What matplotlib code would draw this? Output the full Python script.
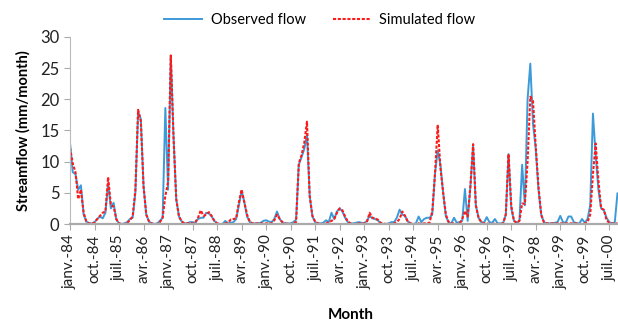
import matplotlib
matplotlib.use("Agg")
import matplotlib.pyplot as plt
import numpy as np

# Monthly streamflow (mm/month), Jan 1984 onwards
observed = [
    13.0, 8.3, 8.0, 5.5, 6.2, 1.5, 0.4, 0.1, 0.1, 0.3, 0.8, 1.2,      # 1984
    0.9, 1.8, 6.5, 2.5, 3.4, 0.7, 0.1, 0.0, 0.1, 0.3, 0.8, 1.0,       # 1985
    5.0, 18.0, 16.8, 6.0, 1.5, 0.4, 0.1, 0.0, 0.1, 0.5, 1.0, 18.6,    # 1986
    5.5, 27.0, 14.0, 4.0, 1.2, 0.4, 0.1, 0.1, 0.3, 0.3, 0.2, 0.8,     # 1987
    1.0, 1.0, 1.8, 1.7, 1.2, 0.5, 0.1, 0.0, 0.0, 0.5, 0.1, 0.2,       # 1988
    0.3, 0.8, 3.0, 5.3, 3.5, 1.2, 0.3, 0.1, 0.1, 0.1, 0.2, 0.5,       # 1989
    0.6, 0.4, 0.3, 0.8, 2.0, 0.8, 0.2, 0.1, 0.1, 0.1, 0.3, 0.7,       # 1990
    9.5, 10.7, 12.0, 14.3, 4.5, 1.2, 0.3, 0.1, 0.1, 0.2, 0.6, 0.3,    # 1991
    1.8, 0.8, 2.0, 2.5, 2.0, 1.0, 0.3, 0.1, 0.1, 0.2, 0.3, 0.2,       # 1992
    0.1, 0.5, 1.3, 0.9, 0.8, 0.6, 0.1, 0.0, 0.0, 0.1, 0.3, 0.3,       # 1993
    1.0, 2.3, 1.5, 1.3, 0.4, 0.1, 0.0, 0.1, 1.2, 0.3, 0.8, 1.0,       # 1994
    1.0, 1.5, 8.0, 11.8, 9.5, 5.0, 1.2, 0.3, 0.1, 1.0, 0.2, 0.3,      # 1995
    0.5, 5.6, 0.5, 6.0, 12.5, 3.0, 1.0, 0.3, 0.2, 1.1, 0.3, 0.2,      # 1996
    0.8, 0.1, 0.1, 0.1, 1.5, 11.2, 2.5, 0.5, 0.2, 0.5, 9.5, 3.0,      # 1997
    20.0, 25.7, 16.0, 12.0, 5.5, 1.5, 0.3, 0.1, 0.1, 0.1, 0.2, 0.3,   # 1998
    1.3, 0.3, 0.2, 1.2, 1.2, 0.3, 0.1, 0.1, 0.8, 0.2, 0.8, 3.0,       # 1999
    17.7, 11.0, 5.5, 2.5, 2.2, 1.0, 0.3, 0.1, 0.2, 4.9,               # 2000
]
simulated = [
    12.2, 9.7, 8.3, 4.0, 5.5, 1.8, 0.4, 0.1, 0.1, 0.2, 0.8, 1.3,
    1.8, 2.0, 7.5, 3.0, 2.8, 0.8, 0.1, 0.0, 0.0, 0.2, 0.6, 1.2,
    5.5, 18.3, 16.5, 6.0, 1.5, 0.4, 0.1, 0.0, 0.0, 0.3, 1.0, 4.5,
    6.7, 27.0, 14.0, 4.0, 1.2, 0.4, 0.1, 0.1, 0.2, 0.1, 0.3, 1.0,
    2.2, 1.3, 1.5, 1.9, 1.3, 0.5, 0.1, 0.0, 0.0, 0.1, 0.2, 0.7,
    0.8, 0.9, 3.5, 5.5, 3.5, 1.5, 0.4, 0.1, 0.1, 0.1, 0.1, 0.1,
    0.1, 0.1, 0.1, 0.6, 1.5, 0.8, 0.3, 0.1, 0.0, 0.0, 0.1, 0.3,
    9.7, 11.0, 13.0, 16.4, 4.5, 1.3, 0.4, 0.1, 0.0, 0.0, 0.1, 0.3,
    0.5, 0.8, 1.8, 2.5, 2.2, 1.2, 0.4, 0.1, 0.0, 0.0, 0.1, 0.1,
    0.1, 0.3, 1.8, 1.0, 0.9, 0.7, 0.2, 0.1, 0.0, 0.0, 0.0, 0.1,
    0.3, 0.8, 2.0, 1.3, 0.4, 0.1, 0.0, 0.0, 0.1, 0.0, 0.1, 0.1,
    0.2, 2.0, 8.0, 15.9, 9.0, 5.0, 1.5, 0.3, 0.1, 0.1, 0.0, 0.0,
    0.8, 2.1, 1.2, 6.0, 12.8, 3.0, 1.0, 0.3, 0.1, 0.1, 0.0, 0.0,
    0.1, 0.0, 0.0, 0.1, 1.5, 11.2, 3.0, 0.5, 0.2, 0.5, 3.3, 3.2,
    10.0, 20.4, 19.7, 12.4, 6.0, 1.5, 0.3, 0.1, 0.1, 0.1, 0.1, 0.1,
    0.1, 0.1, 0.1, 0.1, 0.1, 0.1, 0.1, 0.0, 0.0, 0.1, 0.3, 1.5,
    8.0, 12.9, 7.0, 2.5, 2.3, 0.6, 0.2, 0.1, 0.1, 0.1,
]
tick_labels = ["janv.-84", "oct.-84", "juil.-85", "avr.-86", "janv.-87", "oct.-87",
               "juil.-88", "avr.-89", "janv.-90", "oct.-90", "juil.-91", "avr.-92",
               "janv.-93", "oct.-93", "juil.-94", "avr.-95", "janv.-96", "oct.-96",
               "juil.-97", "avr.-98", "janv.-99", "oct.-99", "juil.-00"]
tick_step = 9  # months between labels

plt.rcParams['font.family'] = ['Lato', 'DejaVu Sans']

months = np.arange(len(observed))
fig = plt.figure(figsize=(6.18, 3.23), dpi=100)
ax = fig.add_axes([0.1133, 0.3065, 0.8867, 0.5795])

ax.plot(months, observed, color='#3d9ad8', lw=1.4, label='Observed flow')
ax.plot(months, simulated, color='#ff1a1a', lw=1.5, ls=(0, (1.5, 0.8)), label='Simulated flow')

ax.set_ylim(0, 30)
ax.set_yticks(range(0, 31, 5))
ax.set_xlim(0, len(observed) - 0.8)
ax.set_xticks([i * tick_step for i in range(len(tick_labels))])
ax.set_xticklabels(tick_labels, rotation=90, fontsize=11, color='#222222')
ax.tick_params(axis='y', labelsize=12, colors='#222222', length=4, color='#aaaaaa')
ax.tick_params(axis='x', length=4, color='#aaaaaa')

for s in ['top', 'right']:
    ax.spines[s].set_visible(False)
ax.spines['left'].set_color('#bbbbbb')
ax.spines['bottom'].set_color('#aaaaaa')
ax.spines['bottom'].set_linewidth(1.6)

ax.set_ylabel('Streamflow (mm/month)', fontsize=10.5, fontweight='bold', labelpad=7)
fig.text(0.567, 0.012, 'Month', fontsize=11, fontweight='bold', ha='center')

leg = ax.legend(loc='lower center', bbox_to_anchor=(0.456, 1.0), ncol=2, frameon=False,
                fontsize=10.5, handlelength=2.6, handletextpad=0.6, columnspacing=1.8,
                borderaxespad=0.3)

fig.savefig('out.png', dpi=100)
